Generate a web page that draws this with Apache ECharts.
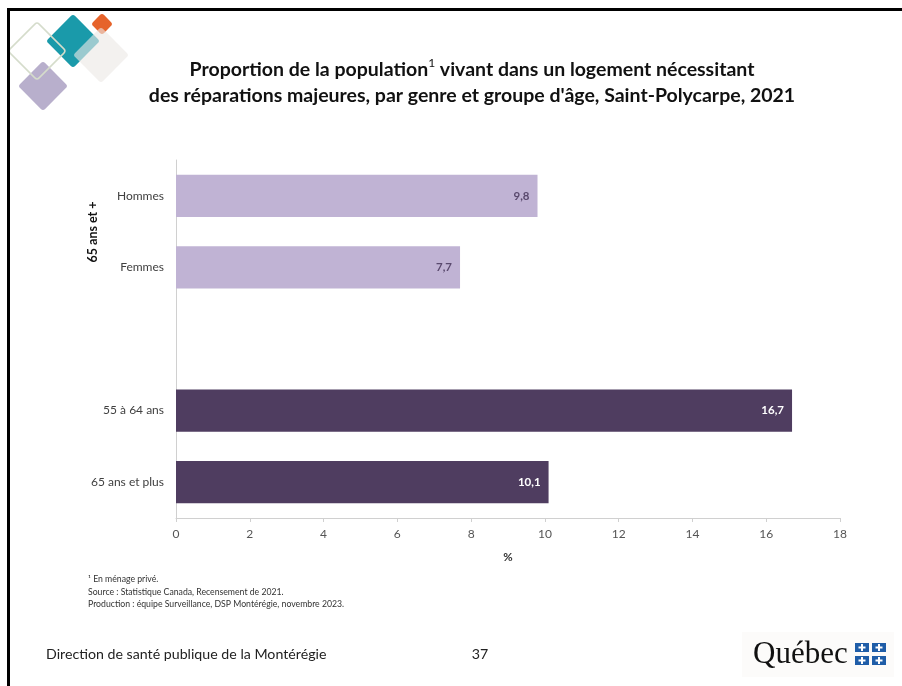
<!DOCTYPE html>
<html>
<head>
<meta charset="utf-8">
<script src="https://cdn.jsdelivr.net/npm/echarts@6/dist/echarts.min.js"></script>
<style>
  html, body { margin: 0; padding: 0; background: #fff; }
  #main { width: 902px; height: 686px; }
</style>
</head>
<body>
<div id="main"></div>
<script>
// categories, top to bottom (empty slot separates the two groups)
const categories = ['Hommes', 'Femmes', '', '55 à 64 ans', '65 ans et plus'];
const values = [9.8, 7.7, null, 16.7, 10.1];
const barColors = ['#c0b3d4', '#c0b3d4', null, '#4f3d60', '#4f3d60'];
const labelColors = ['#5a4a6e', '#5a4a6e', null, '#ffffff', '#ffffff'];
const xTicks = [0, 2, 4, 6, 8, 10, 12, 14, 16, 18];

const FONT = 'Lato, "Open Sans", sans-serif';

const chart = echarts.init(document.getElementById('main'));

// rotated square used for the logo decoration
function diamond(cx, cy, half, style, z) {
  const s = half * Math.SQRT2;
  return {
    type: 'rect', x: cx, y: cy, rotation: Math.PI / 4, z: z || 10,
    shape: { x: -s / 2, y: -s / 2, width: s, height: s, r: 3 },
    style: style,
  };
}

// small blue flag square of the Québec logo
function flag(x, y) {
  return [
    { type: 'rect', z: 16, shape: { x: x, y: y, width: 14, height: 9 }, style: { fill: '#1f5da8' } },
    { type: 'rect', z: 17, shape: { x: x + 6, y: y + 1, width: 2, height: 7 }, style: { fill: '#fff' } },
    { type: 'rect', z: 17, shape: { x: x + 3.5, y: y + 3.5, width: 7, height: 2 }, style: { fill: '#fff' } },
  ];
}

const barData = values.map((v, i) => v === null ? '-' : {
  value: v,
  itemStyle: { color: barColors[i] },
  label: { color: labelColors[i] },
});

const option = {
  backgroundColor: '#ffffff',
  animation: false,
  title: {
    text: 'Proportion de la population{sup|1} vivant dans un logement nécessitant\ndes réparations majeures, par genre et groupe d\'âge, Saint-Polycarpe, 2021',
    left: 467,
    top: 52,
    textAlign: 'center',
    textStyle: {
      fontFamily: FONT,
      fontSize: 19.5,
      fontWeight: 'bold',
      color: '#111',
      lineHeight: 26,
      rich: {
        sup: { fontFamily: FONT, fontSize: 12, fontWeight: 'normal', color: '#111', verticalAlign: 'top', padding: [0, 0, 8, 0] },
      },
    },
  },
  grid: { left: 176, right: 62, top: 160, bottom: 168, containLabel: false },
  xAxis: {
    type: 'value',
    min: 0,
    max: 18,
    interval: 2,
    name: '%',
    nameLocation: 'middle',
    nameGap: 33,
    nameTextStyle: { fontFamily: FONT, fontSize: 11.5, fontWeight: 'bold', color: '#333' },
    axisLine: { show: true, lineStyle: { color: '#d0d0d0', width: 1 } },
    axisTick: { show: true, length: 4, lineStyle: { color: '#d0d0d0' } },
    axisLabel: {
      fontFamily: FONT, fontSize: 12, color: '#555', margin: 10,
      formatter: v => xTicks.includes(v) ? String(v) : '',
    },
    splitLine: { show: false },
  },
  yAxis: {
    type: 'category',
    data: categories,
    inverse: true,
    axisLine: { show: true, lineStyle: { color: '#d0d0d0', width: 1 } },
    axisTick: { show: false },
    axisLabel: { fontFamily: FONT, fontSize: 12, color: '#404040', margin: 12 },
  },
  series: [{
    type: 'bar',
    data: barData,
    barWidth: '59%',
    label: {
      show: true,
      position: 'insideRight',
      distance: 8,
      fontFamily: FONT,
      fontSize: 11.5,
      fontWeight: 'bold',
      formatter: p => String(p.value).replace('.', ','),
    },
  }],
  graphic: [
    // slide frame
    { type: 'rect', shape: { x: 7, y: 8, width: 895, height: 3 }, style: { fill: '#000' }, z: 20 },
    { type: 'rect', shape: { x: 7, y: 8, width: 3, height: 678 }, style: { fill: '#000' }, z: 20 },
    // decoration top-left
    diamond(43, 86, 25, { fill: '#b8afcc' }, 10),
    diamond(73, 41, 27, { fill: '#1a9aaa' }, 11),
    diamond(102, 24, 11, { fill: '#e6632b' }, 11),
    diamond(101, 55, 28, { fill: 'rgba(236,232,229,0.62)' }, 12),
    diamond(37, 51, 29, { fill: 'none', stroke: '#d5dccb', lineWidth: 1.5 }, 13),
    // group label
    {
      type: 'text', x: 93, y: 232, rotation: Math.PI / 2, z: 15,
      style: { text: '65 ans et +', fontFamily: FONT, fontSize: 12.5, fontWeight: 'bold', fill: '#111', align: 'center', verticalAlign: 'middle' },
    },
    // footnotes
    {
      type: 'text', x: 88, y: 573, z: 15,
      style: {
        text: '¹ En ménage privé.\nSource : Statistique Canada, Recensement de 2021.\nProduction : équipe Surveillance, DSP Montérégie, novembre 2023.',
        fontFamily: FONT, fontSize: 8.7, lineHeight: 12.5, fill: '#333',
      },
    },
    // slide footer
    {
      type: 'text', x: 46, y: 647, z: 15,
      style: { text: 'Direction de santé publique de la Montérégie', fontFamily: FONT, fontSize: 14.2, fill: '#222' },
    },
    {
      type: 'text', x: 480, y: 647, z: 15,
      style: { text: '37', fontFamily: FONT, fontSize: 14.2, fill: '#222', align: 'center' },
    },
    // Québec logo
    { type: 'rect', shape: { x: 742, y: 632, width: 152, height: 45 }, style: { fill: '#fcfbfa' }, z: 14 },
    {
      type: 'text', x: 753, y: 639, z: 15,
      style: { text: 'Québec', fontFamily: '"Liberation Serif", "DejaVu Serif", serif', fontSize: 31, fill: '#111' },
    },
    ...flag(855, 643), ...flag(872, 643), ...flag(855, 656), ...flag(872, 656),
  ],
};

chart.setOption(option);
</script>
</body>
</html>
